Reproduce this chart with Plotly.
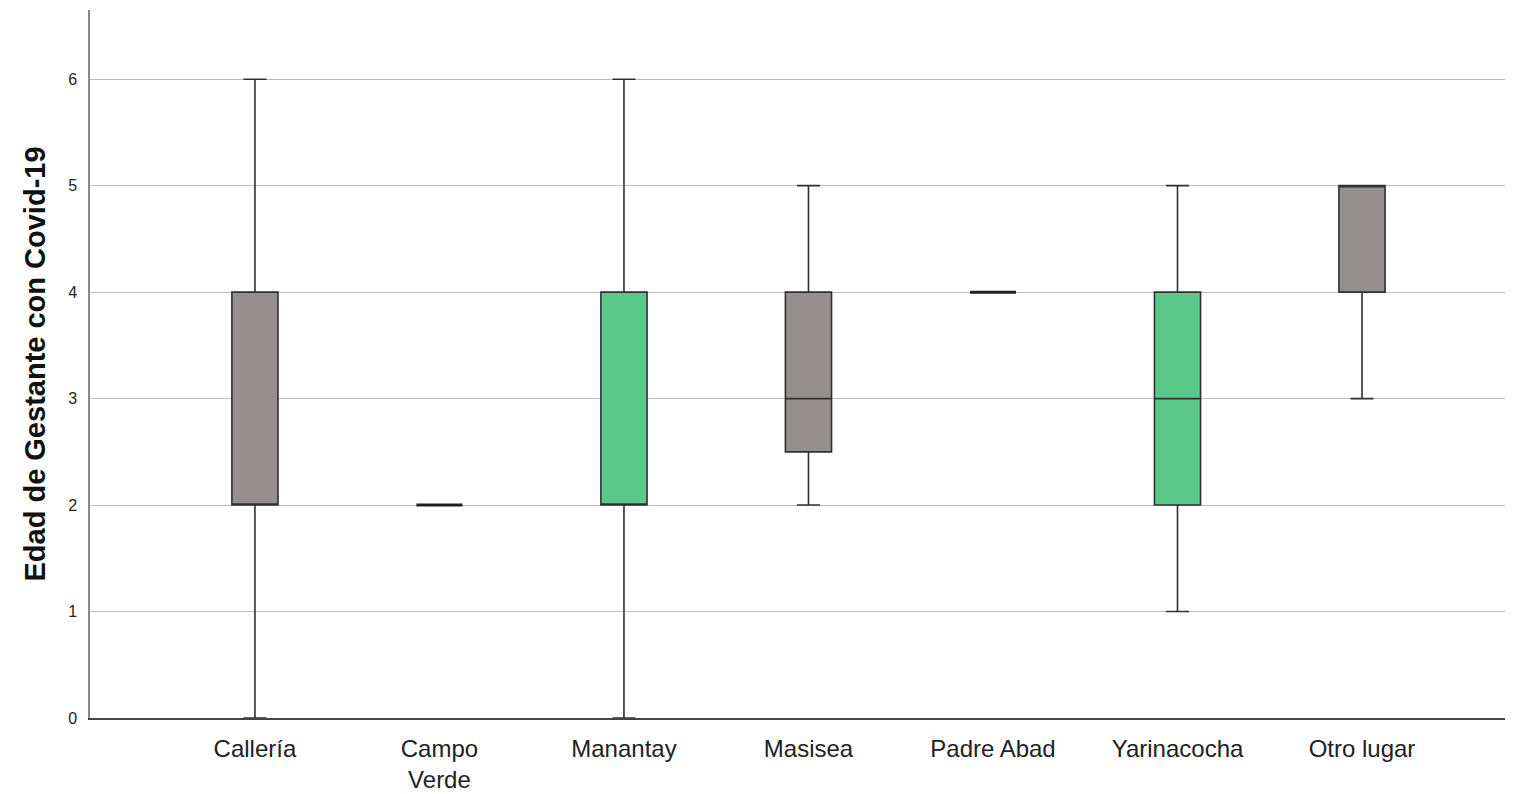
import plotly.graph_objects as go

# Summary statistics per place of origin
lugares = ["Callería", "Campo<br>Verde", "Manantay", "Masisea", "Padre Abad", "Yarinacocha", "Otro lugar"]
q1 = [2, 2, 2, 2.5, 4, 2, 4]
mediana = [2, 2, 2, 3, 4, 3, 5]
q3 = [4, 2, 4, 4, 4, 4, 5]
minimo = [0, 2, 0, 2, 4, 1, 3]
maximo = [6, 2, 6, 5, 4, 5, 5]
relleno = ["#958f8f", "#958f8f", "#5ac888", "#958f8f", "#958f8f", "#5ac888", "#958f8f"]

fig = go.Figure()
for i, lugar in enumerate(lugares):
    # degenerate boxes (all statistics equal) collapse to a single heavier line
    plano = q1[i] == q3[i] == minimo[i] == maximo[i]
    fig.add_trace(go.Box(
        x=[lugar], q1=[q1[i]], median=[mediana[i]], q3=[q3[i]],
        lowerfence=[minimo[i]], upperfence=[maximo[i]],
        fillcolor=relleno[i],
        line=dict(color="#202020" if plano else "#303030", width=3 if plano else 1.6),
        whiskerwidth=0.5,
        width=0.25,
        boxpoints=False,
        showlegend=False,
        hoverinfo="skip",
    ))

fig.update_layout(
    width=1518, height=794,
    margin=dict(l=90, r=13, t=10, b=76),
    paper_bgcolor="white", plot_bgcolor="white",
    boxmode="overlay",
    font=dict(family="Liberation Sans, Arial, sans-serif", color="#222"),
)
fig.update_xaxes(
    type="category", categoryorder="array", categoryarray=lugares,
    range=[-0.894, 6.775], automargin=False,
    showgrid=False, showline=True, linecolor="#444", linewidth=1.5,
    ticks="", ticklabelstandoff=8, tickfont=dict(size=24, color="#222"),
)
fig.update_yaxes(
    range=[0, 6.65], tickvals=[0, 1, 2, 3, 4, 5, 6], automargin=False,
    showgrid=True, gridcolor="#bdbdbd", gridwidth=1.3,
    showline=True, linecolor="#888", linewidth=1.5,
    zeroline=False, ticks="", ticklabelstandoff=8,
    tickfont=dict(size=16, color="#222"),
    title=dict(text="<b>Edad de Gestante con Covid-19</b>",
               font=dict(size=29, color="#111"),
               standoff=14),
)

fig.write_html("out.html")
